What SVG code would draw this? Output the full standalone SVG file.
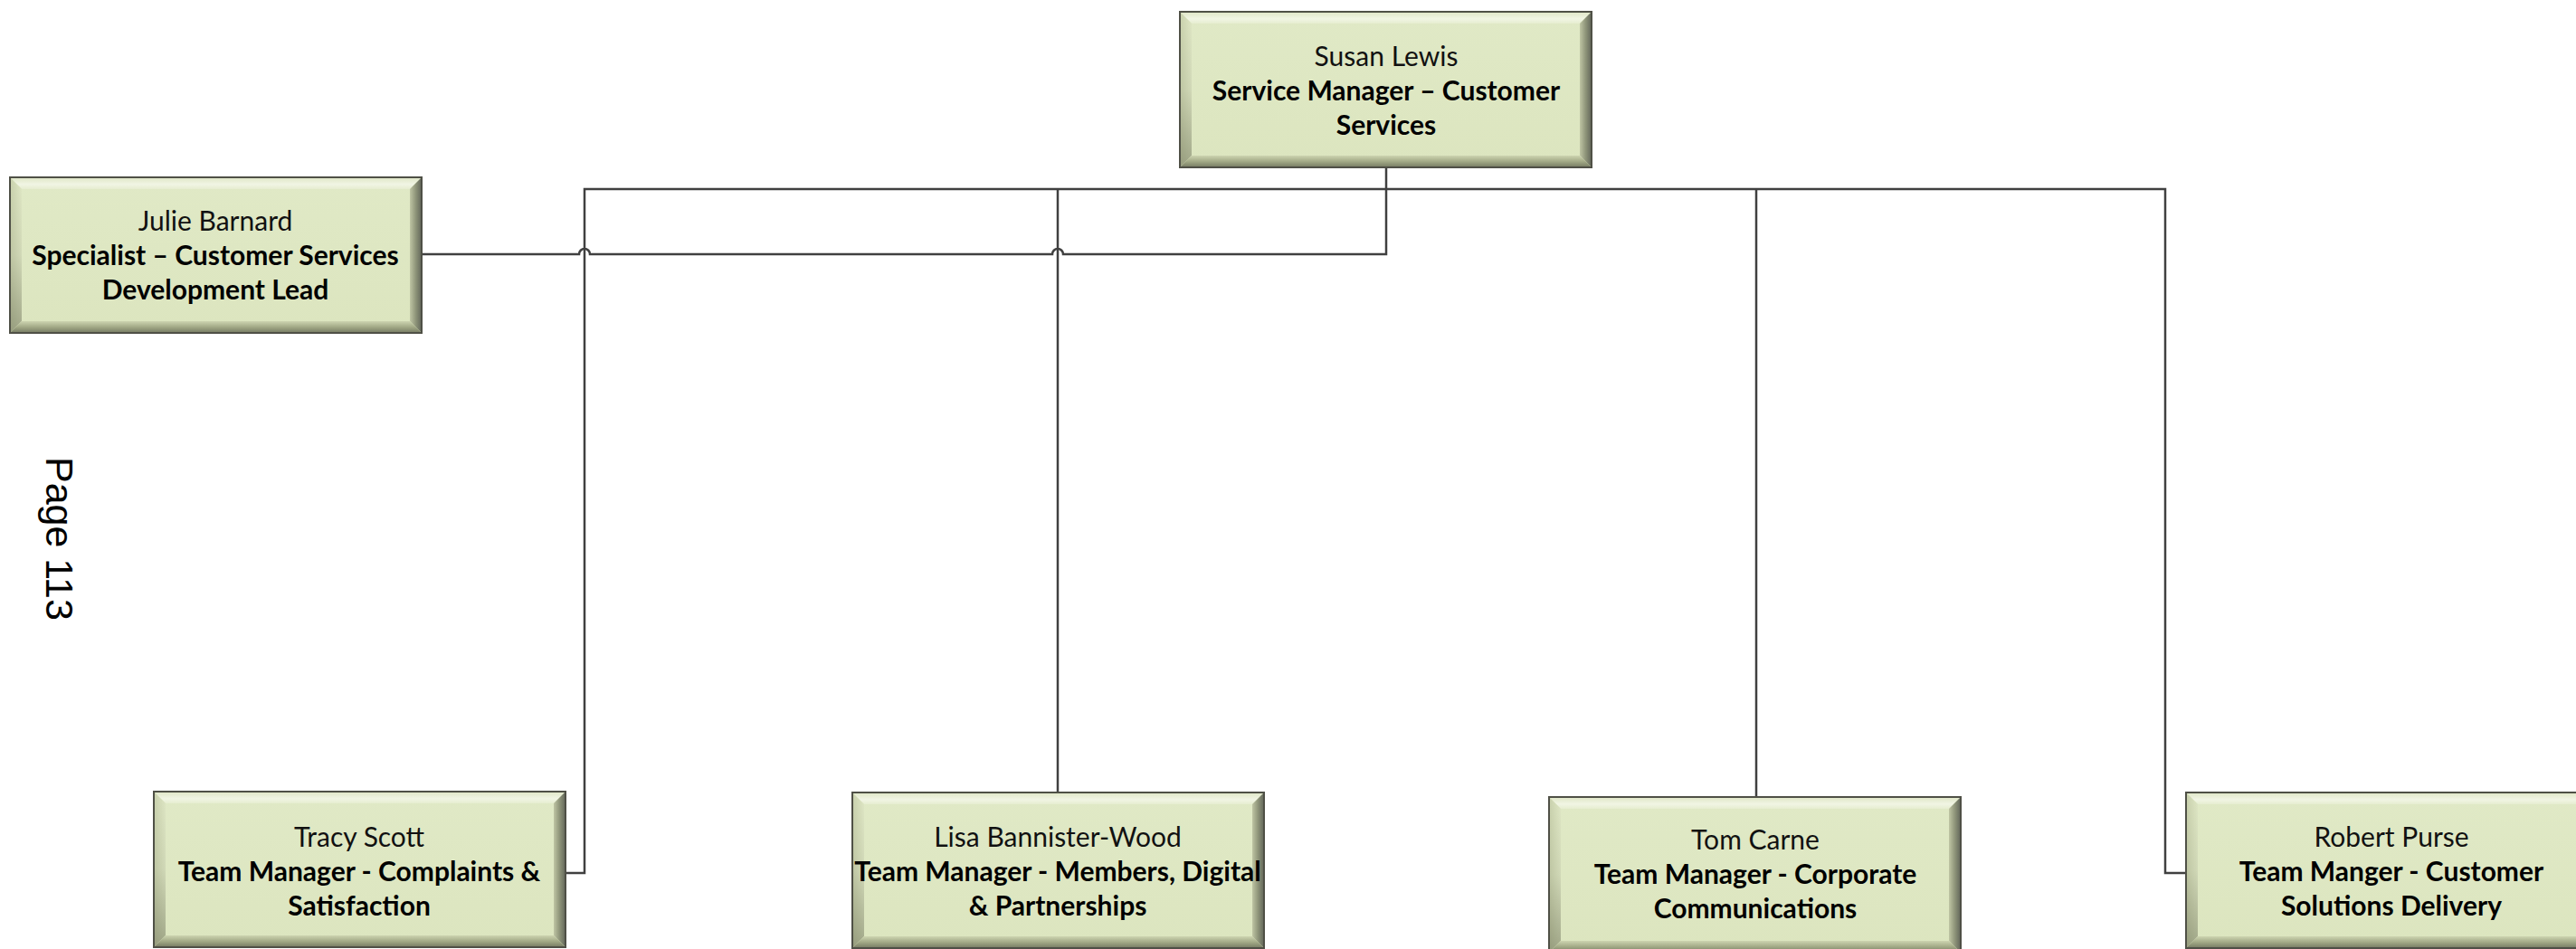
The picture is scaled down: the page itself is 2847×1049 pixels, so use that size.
<svg xmlns="http://www.w3.org/2000/svg" width="2847" height="1049" viewBox="0 0 2847 1049">
  <style>
    .name{font-family:Lato,"Open Sans","Liberation Sans",sans-serif;font-size:30px;fill:#111;text-anchor:middle}
    .role{font-family:Lato,"Open Sans","Liberation Sans",sans-serif;font-size:30px;font-weight:bold;fill:#000;text-anchor:middle}
    .wire{fill:none;stroke:#404040;stroke-width:2.5}
    .page{font-family:"Liberation Sans",Arial,sans-serif;font-size:43px;fill:#000}
  </style>
  <defs>
    <linearGradient id="face" x1="0" y1="0" x2="0" y2="1">
      <stop offset="0" stop-color="#e0e9c6"/>
      <stop offset="1" stop-color="#dce5bf"/>
    </linearGradient>
    <!-- bevel faces: gradients run from the outer edge to the inner edge -->
    <linearGradient id="bevTop" x1="0" y1="0" x2="0" y2="1">
      <stop offset="0" stop-color="#dfe6c6"/>
      <stop offset="0.6" stop-color="#f1f5e4"/>
      <stop offset="1" stop-color="#e6edd0"/>
    </linearGradient>
    <linearGradient id="bevLeft" x1="0" y1="0" x2="1" y2="0">
      <stop offset="0" stop-color="#c9d1ad"/>
      <stop offset="1" stop-color="#dfe7c5"/>
    </linearGradient>
    <linearGradient id="bevLeftShade" x1="0" y1="0" x2="0" y2="1">
      <stop offset="0" stop-color="#55593f" stop-opacity="0"/>
      <stop offset="0.5" stop-color="#55593f" stop-opacity="0.1"/>
      <stop offset="1" stop-color="#55593f" stop-opacity="0.45"/>
    </linearGradient>
    <linearGradient id="bevRight" x1="0" y1="0" x2="1" y2="0">
      <stop offset="0" stop-color="#bfc5a4"/>
      <stop offset="0.5" stop-color="#8e9479"/>
      <stop offset="1" stop-color="#62665a"/>
    </linearGradient>
    <linearGradient id="bevBottom" x1="0" y1="0" x2="0" y2="1">
      <stop offset="0" stop-color="#cdd4b0"/>
      <stop offset="0.5" stop-color="#a2a986"/>
      <stop offset="1" stop-color="#757a62"/>
    </linearGradient>
    <!-- bevelled box shared by every node, 455 x 172 -->
    <g id="box">
      <rect width="455" height="172" fill="url(#face)"/>
      <polygon points="0,0 455,0 442,13 13,13" fill="url(#bevTop)"/>
      <polygon points="0,0 13,13 13,159 0,172" fill="url(#bevLeft)"/>
      <polygon points="0,0 13,13 13,159 0,172" fill="url(#bevLeftShade)"/>
      <polygon points="455,0 455,172 442,159 442,13" fill="url(#bevRight)"/>
      <polygon points="0,172 13,159 442,159 455,172" fill="url(#bevBottom)"/>
      <rect width="455" height="172" fill="none" stroke="#4f5046" stroke-width="2"/>
    </g>
  </defs>

  <rect width="2847" height="1049" fill="#ffffff"/>

  <g id="connectors" class="wire">
    <path d="M1532 185 V281 H1175 A6 6 0 0 0 1163 281 H652 A6 6 0 0 0 640 281 H465"/>
    <path d="M1532 209 H646 V965 H624"/>
    <path d="M1532 209 H2393 V965 H2416"/>
    <path d="M1169 209 V876"/>
    <path d="M1941 209 V881"/>
  </g>

  <g id="susan-lewis">
    <use href="#box" x="1304" y="13"/>
    <text class="name" x="1532" y="73">Susan Lewis</text>
    <text class="role" x="1532" y="111">Service Manager – Customer</text>
    <text class="role" x="1532" y="149">Services</text>
  </g>

  <g id="julie-barnard">
    <use href="#box" x="11" y="196"/>
    <text class="name" x="238" y="255">Julie Barnard</text>
    <text class="role" x="238" y="293">Specialist – Customer Services</text>
    <text class="role" x="238" y="331">Development Lead</text>
  </g>

  <g id="tracy-scott">
    <use href="#box" x="170" y="875"/>
    <text class="name" x="397" y="936">Tracy Scott</text>
    <text class="role" x="397" y="974">Team Manager - Complaints &amp;</text>
    <text class="role" x="397" y="1012">Satisfaction</text>
  </g>

  <g id="lisa-bannister-wood">
    <use href="#box" x="942" y="876"/>
    <text class="name" x="1169" y="936">Lisa Bannister-Wood</text>
    <text class="role" x="1169" y="974">Team Manager - Members, Digital</text>
    <text class="role" x="1169" y="1012">&amp; Partnerships</text>
  </g>

  <g id="tom-carne">
    <use href="#box" x="1712" y="881"/>
    <text class="name" x="1940" y="939">Tom Carne</text>
    <text class="role" x="1940" y="977">Team Manager - Corporate</text>
    <text class="role" x="1940" y="1015">Communications</text>
  </g>

  <g id="robert-purse">
    <use href="#box" x="2416" y="876"/>
    <text class="name" x="2643" y="936">Robert Purse</text>
    <text class="role" x="2643" y="974">Team Manger - Customer</text>
    <text class="role" x="2643" y="1012">Solutions Delivery</text>
  </g>

  <text class="page" x="51" y="505" transform="rotate(90 51 505)">Page 113</text>
</svg>
